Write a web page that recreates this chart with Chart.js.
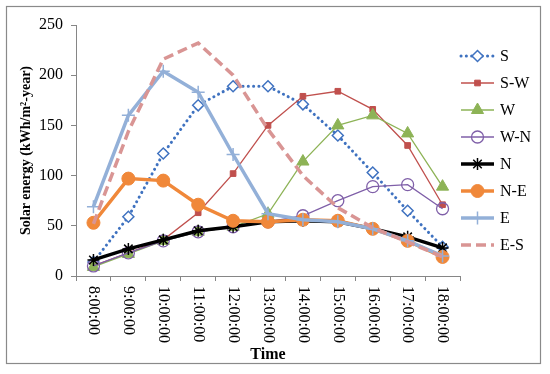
<!DOCTYPE html>
<html>
<head>
<meta charset="utf-8">
<script src="https://cdn.jsdelivr.net/npm/chart.js@4.4.1/dist/chart.umd.min.js"></script>
<style>
  html, body { margin: 0; padding: 0; background: #fff; }
  canvas { display: block; }
</style>
</head>
<body>
<canvas id="c" width="550" height="374"></canvas>
<script>
const timeLabels = ['8:00:00','9:00:00','10:00:00','11:00:00','12:00:00','13:00:00','14:00:00','15:00:00','16:00:00','17:00:00','18:00:00'];
const seriesNames = ['S','S-W','W','W-N','N','N-E','E','E-S'];
const sVals  = [14, 59, 122, 170, 189, 189, 171, 140, 103, 65, 29];
const swVals = [10, 23, 36, 63, 102, 150, 179, 184, 166, 130, 71];
const wVals  = [9, 22, 35, 44, 49, 62, 114, 150, 160, 142, 89];
const wnVals = [10, 23, 35, 44, 49, 54, 60, 75, 89, 91, 67];
const nVals  = [16, 27, 36, 45, 49, 54, 55, 54, 47, 39, 28];
const neVals = [53, 97, 95, 71, 55, 54, 56, 55, 47, 35, 19];
const eVals  = [69, 160, 204, 183, 121, 62, 56, 54, 47, 35, 20];
const esVals = [52, 144, 216, 232, 200, 146, 100, 68, 48, 34, 19];
const yTicks = [0, 50, 100, 150, 200, 250];

const FONT = "'Liberation Serif', 'Times New Roman', serif";
Chart.defaults.font.family = FONT;
Chart.defaults.font.size = 16;
Chart.defaults.color = '#000';

const styles = [
  {borderColor:'#3F72C0', borderWidth:3, borderDash:[0.1,5.2], borderCapStyle:'round', pointStyle:'rectRot', pointRadius:5.5, pointBorderWidth:1.5, pointBackgroundColor:'#fff'},
  {borderColor:'#C0504D', borderWidth:1.3, borderDash:[], pointStyle:'rect', pointRadius:4, pointBorderWidth:1, pointBackgroundColor:'#C0504D'},
  {borderColor:'#8DB356', borderWidth:1.3, borderDash:[], pointStyle:'triangle', pointRadius:7, pointBorderWidth:1, pointBackgroundColor:'#8DB356'},
  {borderColor:'#7F5FA8', borderWidth:1.3, borderDash:[], pointStyle:'circle', pointRadius:6, pointBorderWidth:1.3, pointBackgroundColor:'rgba(255,255,255,0)'},
  {borderColor:'#000000', borderWidth:3.5, borderDash:[], pointStyle:'star', pointRadius:6, pointBorderWidth:1.5, pointBackgroundColor:'#000'},
  {borderColor:'#F0883A', borderWidth:3.5, borderDash:[], pointStyle:'circle', pointRadius:6.5, pointBorderWidth:1, pointBackgroundColor:'#F0883A'},
  {borderColor:'#93B0D8', borderWidth:3.5, borderDash:[], pointStyle:'cross', pointRadius:6.5, pointBorderWidth:1.5, pointBackgroundColor:'#93B0D8'},
  {borderColor:'#D99594', borderWidth:3.5, borderDash:[10,5], borderCapStyle:'butt', pointStyle:'circle', pointRadius:0, pointBorderWidth:0, pointBackgroundColor:'#D99594'}
];
const allVals = [sVals, swVals, wVals, wnVals, nVals, neVals, eVals, esVals];

const datasets = allVals.map((vals, i) => Object.assign({
  label: seriesNames[i],
  data: vals,
  tension: 0,
  fill: false,
  order: seriesNames.length - i,
  pointBorderColor: styles[i].borderColor,
  pointHoverRadius: styles[i].pointRadius
}, styles[i]));

function drawMarker(ctx, st, x, y) {
  if (!st.pointRadius) return;
  ctx.save();
  ctx.fillStyle = st.pointBackgroundColor;
  ctx.strokeStyle = st.borderColor;
  ctx.lineWidth = st.pointBorderWidth;
  ctx.setLineDash([]);
  Chart.helpers.drawPoint(ctx, {pointStyle: st.pointStyle, radius: st.pointRadius, borderWidth: st.pointBorderWidth, rotation: 0}, x, y);
  ctx.restore();
}

const decor = {
  id: 'decor',
  beforeDraw(chart) {
    const ctx = chart.ctx;
    ctx.save();
    ctx.fillStyle = '#fff';
    ctx.fillRect(0, 0, chart.width, chart.height);
    ctx.strokeStyle = '#8a8a8a';
    ctx.lineWidth = 1.2;
    ctx.strokeRect(6.5, 6.5, 534, 357);
    ctx.restore();
  },
  afterDraw(chart) {
    const ctx = chart.ctx;
    const xs = chart.scales.x;
    // rotated x tick labels (reading top to bottom)
    ctx.save();
    ctx.font = '16px ' + FONT;
    ctx.fillStyle = '#000';
    ctx.textAlign = 'left';
    ctx.textBaseline = 'middle';
    timeLabels.forEach((l, i) => {
      const x = xs.getPixelForValue(i);
      ctx.save();
      ctx.translate(x, xs.top + 10);
      ctx.rotate(Math.PI / 2);
      ctx.fillText(l, 0, 0);
      ctx.restore();
    });
    ctx.restore();
    // legend
    ctx.save();
    ctx.font = '16px ' + FONT;
    ctx.textAlign = 'left';
    ctx.textBaseline = 'middle';
    seriesNames.forEach((name, i) => {
      const st = styles[i];
      const y = 56 + i * 27;
      ctx.save();
      ctx.strokeStyle = st.borderColor;
      ctx.lineWidth = st.borderWidth;
      ctx.setLineDash(st.borderDash);
      ctx.lineCap = st.borderCapStyle || 'butt';
      ctx.beginPath();
      ctx.moveTo(461, y);
      ctx.lineTo(494, y);
      ctx.stroke();
      ctx.restore();
      drawMarker(ctx, st, 477.5, y);
      ctx.fillStyle = '#000';
      ctx.fillText(name, 500, y + 1);
    });
    ctx.restore();
  }
};

new Chart(document.getElementById('c'), {
  type: 'line',
  data: { labels: timeLabels, datasets: datasets },
  options: {
    responsive: false,
    animation: false,
    devicePixelRatio: 1,
    layout: { padding: { left: 8, right: 90, top: 25, bottom: 8 } },
    plugins: { legend: { display: false }, tooltip: { enabled: false } },
    scales: {
      x: {
        type: 'category',
        offset: true,
        grid: { offset: true, drawOnChartArea: false, drawTicks: true, tickLength: 5, color: '#868686' },
        border: { display: true, color: '#868686', width: 1 },
        ticks: { display: false },
        title: { display: true, text: 'Time', font: { size: 16, weight: 'bold', family: FONT }, color: '#000', padding: { top: 0, bottom: 1.4 } },
        afterFit(scale) { scale.height = 90; }
      },
      y: {
        min: 0, max: 250,
        afterBuildTicks(scale) { scale.ticks = yTicks.map(v => ({ value: v })); },
        grid: { drawOnChartArea: false, drawTicks: true, tickLength: 5, color: '#868686' },
        border: { display: true, color: '#868686', width: 1 },
        ticks: { padding: 8, font: { size: 16, family: FONT }, color: '#000' },
        title: { display: true, text: 'Solar energy (kWh/m²-year)', font: { size: 14, weight: 'bold', family: FONT }, color: '#000', padding: { top: 9.6, bottom: 0 } },
        afterFit(scale) { scale.width = 68; }
      }
    }
  },
  plugins: [decor]
});
</script>
</body>
</html>
